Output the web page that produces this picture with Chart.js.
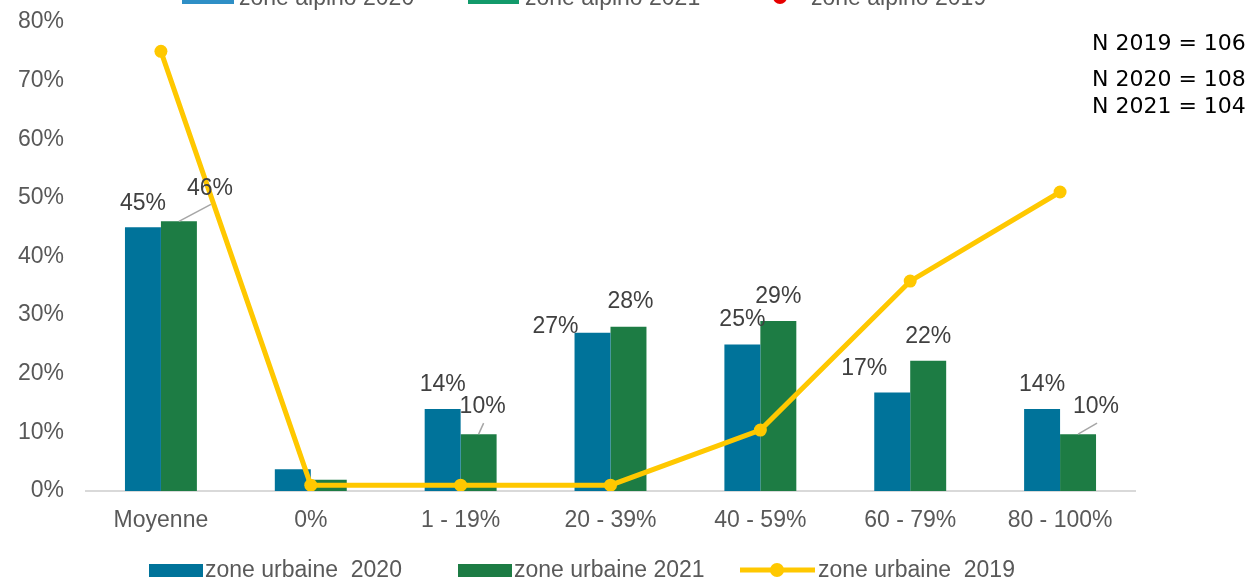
<!DOCTYPE html>
<html>
<head>
<meta charset="utf-8">
<script src="https://cdn.jsdelivr.net/npm/chart.js@4/dist/chart.umd.min.js"></script>
<style>
  html, body { margin: 0; padding: 0; background: #fff; }
  #wrap { position: relative; width: 1253px; height: 581px; }
</style>
</head>
<body>
<div id="wrap"><canvas id="chart" width="1253" height="581"></canvas></div>
<script>
// data
const categories = ['Moyenne', '0%', '1 - 19%', '20 - 39%', '40 - 59%', '60 - 79%', '80 - 100%'];
const urbaine2020 = [45, 3.7, 14, 27, 25, 16.8, 14];
const urbaine2021 = [46, 1.9, 9.7, 28, 29, 22.2, 9.7];
const urbaine2019 = [75, 1, 1, 1, 10.4, 35.8, 51];
const yTicks = [0, 10, 20, 30, 40, 50, 60, 70, 80];
const seriesNames = ['zone urbaine  2020', 'zone urbaine 2021', 'zone urbaine  2019'];
const alpinoNames = ['zone alpino 2020', 'zone alpino 2021', 'zone alpino 2019'];
const nLabels = ['N 2019 = 106', 'N 2020 = 108', 'N 2021 = 104'];

const BLUE = '#00739a';
const GREEN = '#1d7c44';
const YELLOW = '#ffc800';
const FONT = '"Liberation Sans", Arial, sans-serif';

// where each value label sits relative to the top of its bar (dx, dy, leader line)
const labelPlacement = {
  '0-0': [0, -24], '0-2': [0, -24], '0-3': [-37, -6], '0-4': [0, -25], '0-5': [-28, -24], '0-6': [0, -24],
  '1-0': [31, -33, true], '1-2': [4, -27, true], '1-3': [2, -25], '1-4': [0, -24], '1-5': [0, -24], '1-6': [18, -27, true]
};

const extras = {
  id: 'extras',
  afterDatasetsDraw(chart) {
    const ctx = chart.ctx;
    ctx.save();
    ctx.font = '23px ' + FONT;
    ctx.textAlign = 'center';
    ctx.textBaseline = 'middle';
    [0, 1].forEach(di => {
      const meta = chart.getDatasetMeta(di);
      meta.data.forEach((bar, i) => {
        const p = labelPlacement[di + '-' + i];
        if (!p) return;
        const lx = bar.x + p[0], ly = bar.y + p[1];
        if (p[2]) {
          ctx.strokeStyle = '#a6a6a6';
          ctx.lineWidth = 1.5;
          ctx.beginPath();
          ctx.moveTo(bar.x, bar.y);
          ctx.lineTo(lx + 1, ly + 16);
          ctx.stroke();
        }
        ctx.fillStyle = '#404040';
        ctx.fillText(Math.round(chart.data.datasets[di].data[i]) + '%', lx, ly);
      });
    });
    ctx.restore();
  },
  afterDraw(chart) {
    const ctx = chart.ctx;
    const ds = chart.data.datasets;
    ctx.save();
    ctx.font = '23px ' + FONT;
    ctx.textBaseline = 'middle';
    ctx.textAlign = 'left';

    // bottom legend
    const ly = 570;
    const starts = [149, 458, 740];
    ds.forEach((d, i) => {
      const x = starts[i];
      if (d.type === 'line') {
        ctx.strokeStyle = d.borderColor;
        ctx.lineWidth = 5;
        ctx.beginPath();
        ctx.moveTo(x, ly);
        ctx.lineTo(x + 75, ly);
        ctx.stroke();
        ctx.fillStyle = d.borderColor;
        ctx.beginPath();
        ctx.arc(x + 37, ly, 7, 0, Math.PI * 2);
        ctx.fill();
        ctx.fillStyle = '#595959';
        ctx.fillText(d.label, x + 78, ly + 1);
      } else {
        ctx.fillStyle = d.backgroundColor;
        ctx.fillRect(x, ly - 6, 54, 13);
        ctx.fillStyle = '#595959';
        ctx.fillText(d.label, x + 56, ly + 1);
      }
    });

    // top legend, cut off by the picture edge
    const ty = -1;
    ctx.fillStyle = '#2e8fc6';
    ctx.fillRect(182, ty - 8, 52, 13);
    ctx.fillStyle = '#129a6b';
    ctx.fillRect(468, ty - 8, 51, 13);
    ctx.fillStyle = '#e60000';
    ctx.beginPath();
    ctx.arc(780, ty - 2, 7, 0, Math.PI * 2);
    ctx.fill();
    ctx.fillStyle = '#595959';
    ctx.fillText(alpinoNames[0], 239, ty);
    ctx.fillText(alpinoNames[1], 525, ty);
    ctx.fillText(alpinoNames[2], 811, ty);

    // sample sizes
    ctx.fillStyle = '#000';
    ctx.font = '22px "DejaVu Sans", sans-serif';
    ctx.fillText(nLabels[0], 1092, 44);
    ctx.fillText(nLabels[1], 1092, 80);
    ctx.fillText(nLabels[2], 1092, 107);
    ctx.restore();
  }
};

new Chart(document.getElementById('chart'), {
  data: {
    labels: categories,
    datasets: [
      { type: 'bar', label: seriesNames[0], data: urbaine2020, backgroundColor: BLUE, order: 1,
        categoryPercentage: 0.48, barPercentage: 1 },
      { type: 'bar', label: seriesNames[1], data: urbaine2021, backgroundColor: GREEN, order: 1,
        categoryPercentage: 0.48, barPercentage: 1 },
      { type: 'line', label: seriesNames[2], data: urbaine2019, borderColor: YELLOW, backgroundColor: YELLOW,
        borderWidth: 5, pointRadius: 6.5, pointBackgroundColor: YELLOW, pointBorderWidth: 0,
        tension: 0, order: 0 }
    ]
  },
  options: {
    responsive: false,
    animation: false,
    layout: { padding: { top: 22, right: 118, bottom: 0, left: 0 } },
    plugins: {
      legend: { display: false },
      tooltip: { enabled: false }
    },
    scales: {
      x: {
        grid: { display: false, drawTicks: false },
        border: { display: true, color: '#d9d9d9', width: 2 },
        ticks: { color: '#595959', font: { family: FONT, size: 23 }, padding: 16, maxRotation: 0 },
        afterFit(s) { s.height = 90; s.paddingLeft = 0; s.paddingRight = 0; }
      },
      y: {
        min: 0, max: 80,
        grid: { display: false, drawTicks: false },
        border: { display: false },
        afterBuildTicks(s) { s.ticks = yTicks.map(v => ({ value: v })); },
        ticks: { color: '#595959', font: { family: FONT, size: 23 }, padding: 22,
          callback: v => v + '%' },
        afterFit(s) { s.width = 86; s.paddingTop = 0; s.paddingBottom = 0; }
      }
    }
  },
  plugins: [extras]
});
</script>
</body>
</html>
